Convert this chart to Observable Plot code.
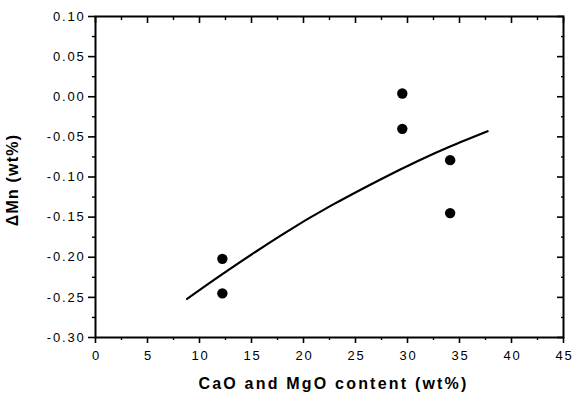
<!DOCTYPE html>
<html>
<head>
<meta charset="utf-8">
<script src="https://cdn.jsdelivr.net/npm/d3@7"></script>
<script src="https://cdn.jsdelivr.net/npm/@observablehq/plot@0.6"></script>
<style>
  html, body { margin: 0; padding: 0; background: #fff; }
  svg { font-family: "Liberation Sans", Arial, sans-serif; }
</style>
</head>
<body>
<div id="chart"></div>
<script>
// Measured points
const pointX = [12.2, 12.2, 29.5, 29.5, 34.1, 34.1];
const pointY = [-0.202, -0.245, 0.004, -0.040, -0.079, -0.145];

// Fitted curve
const curveX = [8.8, 12.2, 17.8, 22.6, 27.4, 31.0, 34.1, 37.7];
const curveY = [-0.252, -0.221, -0.173, -0.136, -0.103, -0.080, -0.062, -0.043];

// Tick values
const xMajor = [0, 5, 10, 15, 20, 25, 30, 35, 40, 45];
const xMinor = [2.5, 7.5, 12.5, 17.5, 22.5, 27.5, 32.5, 37.5, 42.5];
const yMajor = [-0.30, -0.25, -0.20, -0.15, -0.10, -0.05, 0.00, 0.05, 0.10];
const yMinor = [-0.275, -0.225, -0.175, -0.125, -0.075, -0.025, 0.025, 0.075];

const xLabel = "CaO and MgO content (wt%)";
const yLabel = "ΔMn (wt%)";

const points = pointX.map((x, i) => ({x, y: pointY[i]}));
const curve = curveX.map((x, i) => ({x, y: curveY[i]}));

const fmt = d => d.toFixed(2);
const noLabel = () => "";
const tickFS = 13;

const chart = Plot.plot({
  width: 574,
  height: 396,
  marginLeft: 95,
  marginRight: 11,
  marginTop: 16,
  marginBottom: 59,
  style: {fontFamily: "'Liberation Sans', Arial, sans-serif", color: "#000", background: "#fff"},
  x: {domain: [0, 45]},
  y: {domain: [-0.30, 0.10]},
  marks: [
    Plot.frame({stroke: "#000", strokeWidth: 2}),
    // bottom axis: ticks, then labels
    Plot.axisX(xMajor, {anchor: "bottom", tickSize: 6, strokeWidth: 1.6, label: null, tickFormat: noLabel}),
    Plot.axisX(xMajor, {anchor: "bottom", tickSize: 0, tickPadding: 13, label: null, tickFormat: d => String(d), fontSize: tickFS, dx: 1}),
    Plot.axisX(xMinor, {anchor: "bottom", tickSize: 3, strokeWidth: 1.4, label: null, tickFormat: noLabel}),
    // top axis (inward)
    Plot.axisX(xMajor, {anchor: "top", tickSize: -6, strokeWidth: 1.6, label: null, tickFormat: noLabel}),
    Plot.axisX(xMinor, {anchor: "top", tickSize: -3, strokeWidth: 1.4, label: null, tickFormat: noLabel}),
    // left axis
    Plot.axisY(yMajor, {anchor: "left", tickSize: 7, strokeWidth: 1.6, label: null, tickFormat: noLabel}),
    Plot.axisY(yMajor, {anchor: "left", tickSize: 0, tickPadding: 10, label: null, tickFormat: fmt, fontSize: tickFS}),
    Plot.axisY(yMinor, {anchor: "left", tickSize: 3, strokeWidth: 1.4, label: null, tickFormat: noLabel}),
    // right axis (inward)
    Plot.axisY(yMajor, {anchor: "right", tickSize: -7, strokeWidth: 1.6, label: null, tickFormat: noLabel}),
    Plot.axisY(yMinor, {anchor: "right", tickSize: -3, strokeWidth: 1.4, label: null, tickFormat: noLabel}),
    // fitted curve
    Plot.line(curve, {x: "x", y: "y", curve: "natural", stroke: "#000", strokeWidth: 2.2}),
    // data points
    Plot.dot(points, {x: "x", y: "y", r: 5.2, fill: "#000", stroke: "none"}),
    // axis titles
    Plot.text([xLabel], {text: d => d, frameAnchor: "bottom", textAnchor: "middle", lineAnchor: "middle", dy: 46, dx: 4, fontWeight: "bold", fontSize: 16, fill: "#000"}),
    Plot.text([yLabel], {text: d => d, frameAnchor: "left", textAnchor: "middle", lineAnchor: "middle", dx: -83, dy: 3, rotate: -90, fontWeight: "bold", fontSize: 16, fill: "#000"})
  ]
});

// letter spacing to match the wide typesetting of the reference
chart.querySelectorAll("text").forEach(t => {
  const s = t.textContent;
  if (s === xLabel) t.style.letterSpacing = "2.2px";
  else if (s === yLabel) t.style.letterSpacing = "1.2px";
  else if (s.length) t.style.letterSpacing = "1.8px";
});

document.getElementById("chart").appendChild(chart);
</script>
</body>
</html>
